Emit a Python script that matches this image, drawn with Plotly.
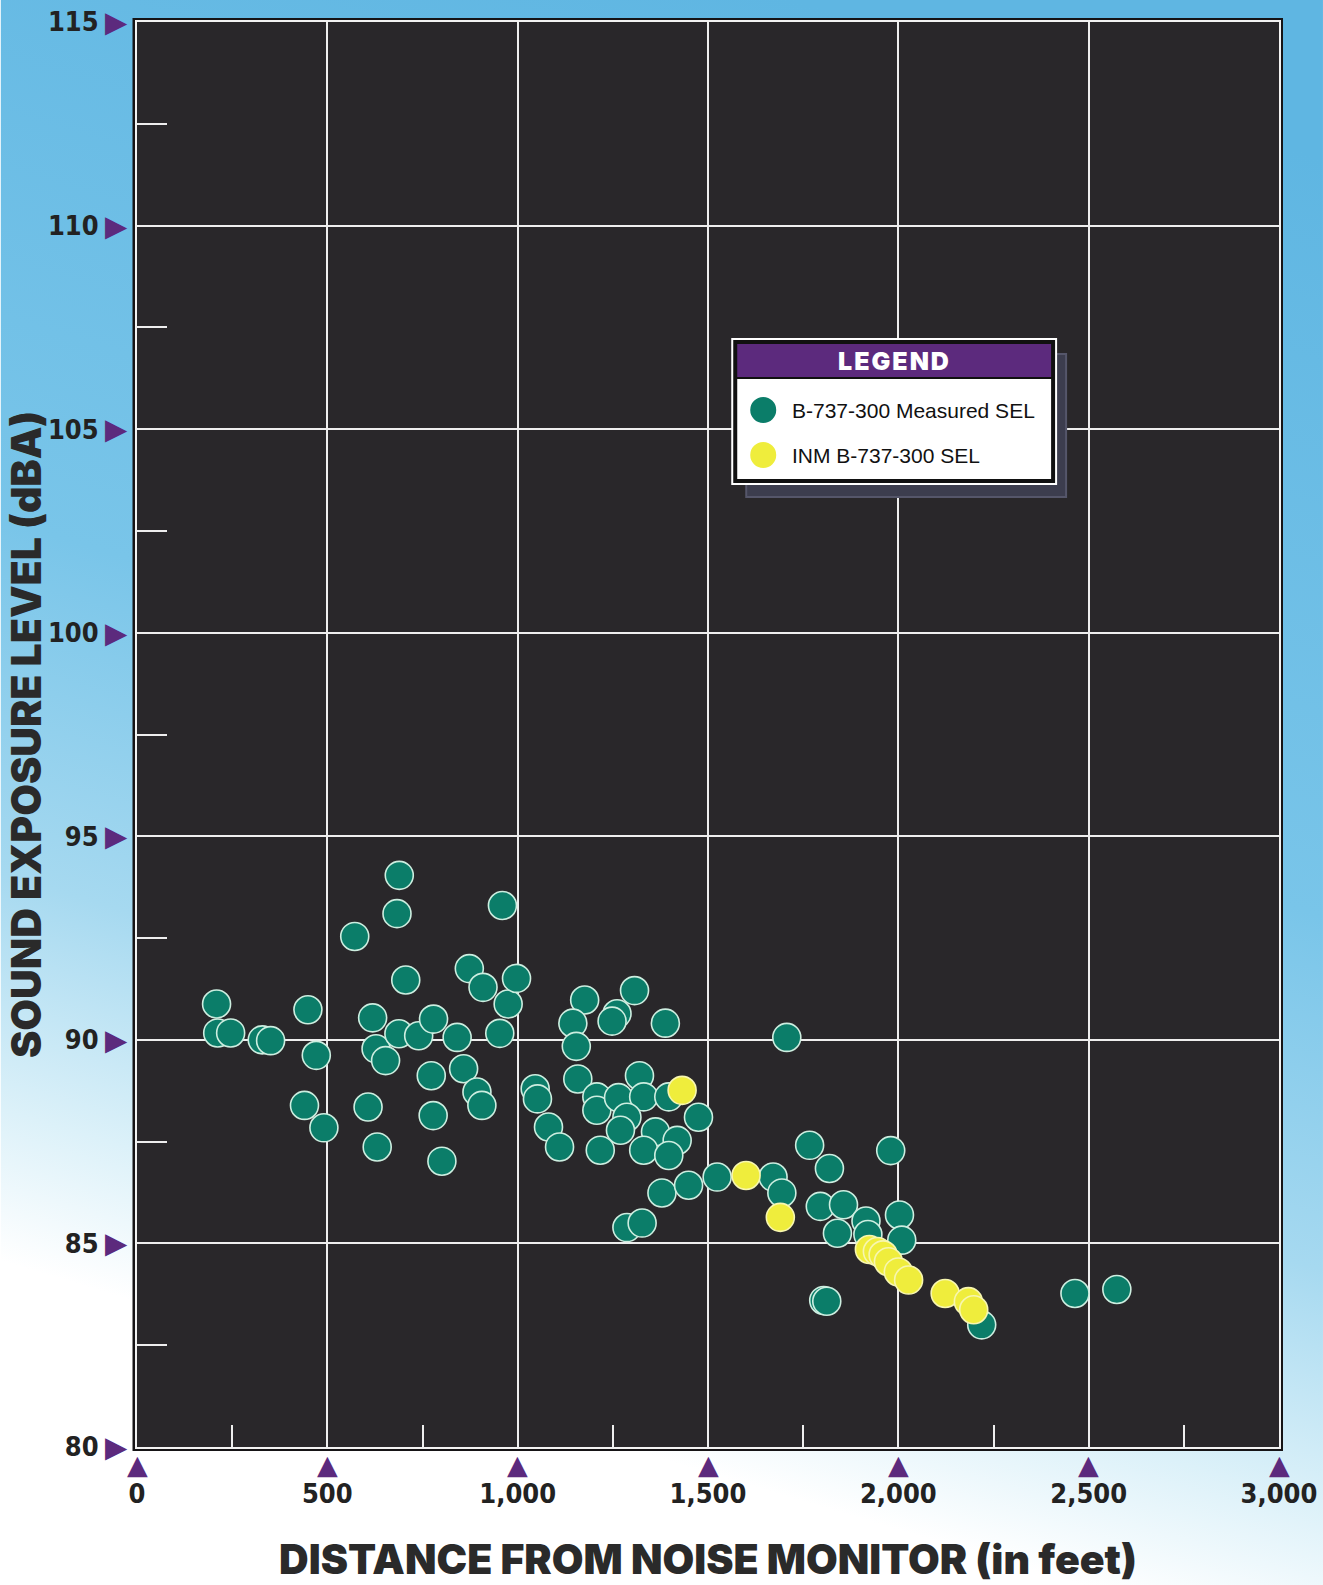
import base64
import plotly.graph_objects as go

# ---------------- data ----------------
measured_ft = [209, 212, 246, 329, 351, 449, 471, 440, 491, 572,
               689, 683, 706, 619, 628, 653, 688, 740, 779, 841,
               773, 607, 631, 778, 801, 873, 909, 960, 975, 997,
               953, 858, 893, 906, 1046, 1052, 1081, 1110, 1176, 1145,
               1154, 1158, 1307, 1261, 1248, 1388, 1707, 1320, 1208, 1208,
               1265, 1331, 1287, 1270, 1362, 1419, 1331, 1397, 1217, 1397,
               1475, 1379, 1449, 1524, 1671, 1694, 1287, 1327, 1767, 1819,
               1980, 1795, 1856, 1840, 1915, 1920, 2003, 2009, 1804, 1812,
               2219, 2464, 2574]
measured_sel = [90.88, 90.17, 90.17, 90.00, 89.98, 90.74, 89.62, 88.39, 87.84, 92.54,
                94.04, 93.10, 91.47, 90.54, 89.78, 89.49, 90.15, 90.10, 90.51, 90.06,
                89.12, 88.35, 87.37, 88.14, 87.02, 91.75, 91.29, 93.30, 90.88, 91.51,
                90.16, 89.29, 88.72, 88.39, 88.80, 88.55, 87.86, 87.37, 90.98, 90.41,
                89.84, 89.04, 91.21, 90.64, 90.46, 90.41, 90.06, 89.12, 88.60, 88.27,
                88.58, 88.60, 88.10, 87.78, 87.74, 87.53, 87.29, 87.16, 87.29, 88.60,
                88.10, 86.24, 86.43, 86.63, 86.63, 86.24, 85.39, 85.50, 87.41, 86.84,
                87.28, 85.91, 85.95, 85.25, 85.55, 85.22, 85.70, 85.08, 83.60, 83.58,
                83.00, 83.77, 83.87]

inm_ft = [1432, 1600, 1690, 1924, 1945, 1960, 1974, 2000, 2027, 2123, 2184, 2198]
inm_sel = [88.76, 86.67, 85.64, 84.85, 84.80, 84.72, 84.55, 84.30, 84.10, 83.77, 83.57, 83.37]

x_ticks = [0, 500, 1000, 1500, 2000, 2500, 3000]
y_ticks = [80, 85, 90, 95, 100, 105, 110, 115]
y_minor = [82.5, 87.5, 92.5, 97.5, 102.5, 107.5, 112.5]
x_minor = [250, 750, 1250, 1750, 2250, 2750]

series_names = ["B-737-300 Measured SEL", "INM B-737-300 SEL"]
x_title = "DISTANCE FROM NOISE MONITOR (in feet)"
y_title = "SOUND EXPOSURE LEVEL (dBA)"

# ---------------- style ----------------
W, H = 1323, 1585
L, R, T, B = 136.5, 44, 22, 138
PW, PH = W - L - R, H - T - B

GREEN = "#0b7d69"
YELLOW = "#efed3c"
PURPLE = "#5c2a7d"
DARK = "#29272a"
TXT = "#222222"

def px_x(px):
    return (px - L) / PW

def px_y(py):
    return (H - B - py) / PH

svg = (
    f'<svg xmlns="http://www.w3.org/2000/svg" width="{W}" height="{H}" '
    f'viewBox="0 0 {W} {H}" preserveAspectRatio="none">'
    '<defs><linearGradient id="g" x1="0.6" y1="0" x2="0.35" y2="1">'
    '<stop offset="0" stop-color="#5fb6e2"/>'
    '<stop offset="0.45" stop-color="#79c5e9"/>'
    '<stop offset="0.66" stop-color="#a6d9f0"/>'
    '<stop offset="0.80" stop-color="#dcf1f9"/>'
    '<stop offset="0.89" stop-color="#ffffff"/>'
    '<stop offset="1" stop-color="#ffffff"/>'
    '</linearGradient></defs>'
    f'<rect x="0" y="0" width="{W}" height="{H}" fill="url(#g)"/></svg>'
)
bg_src = "data:image/svg+xml;base64," + base64.b64encode(svg.encode()).decode()

fig = go.Figure()
fig.add_trace(go.Scatter(
    x=measured_ft, y=measured_sel, mode="markers", name=series_names[0],
    marker=dict(size=28, color=GREEN, line=dict(color="#cdeee0", width=1.6)),
    showlegend=False,
))
fig.add_trace(go.Scatter(
    x=inm_ft, y=inm_sel, mode="markers", name=series_names[1],
    marker=dict(size=28, color=YELLOW, line=dict(color="#f7f6b0", width=1.6)),
    showlegend=False,
))

tick_font = dict(family="Liberation Sans Narrow, DejaVu Sans Condensed, Arial Narrow, sans-serif",
                 size=27, color=TXT, weight="bold")
title_font = dict(family="Inter, Lato, Roboto, Arial Black, sans-serif", size=41,
                  color="#2a2a2a", weight=900)

fig.update_xaxes(
    range=[0, 3000], tickmode="array", tickvals=x_ticks,
    ticktext=[f"{v:,}" for v in x_ticks],
    showgrid=True, gridcolor="#eeeeee", gridwidth=2, zeroline=False,
    showline=True, linecolor="#f2f2f2", linewidth=2, mirror=True,
    ticks="", tickfont=tick_font, ticklabelstandoff=22, ticklabeloverflow="allow",
    minor=dict(tickmode="array", tickvals=x_minor, ticks="inside", ticklen=22,
               tickwidth=2, tickcolor="#eeeeee", showgrid=False),
    title=dict(text=x_title, font=title_font, standoff=37),
)
fig.update_yaxes(
    range=[80, 115], tickmode="array", tickvals=y_ticks,
    ticktext=[str(v) for v in y_ticks],
    showgrid=True, gridcolor="#eeeeee", gridwidth=2, zeroline=False,
    showline=True, linecolor="#f2f2f2", linewidth=2, mirror=True,
    ticks="", tickfont=tick_font, ticklabelstandoff=31, ticklabeloverflow="allow",
    minor=dict(tickmode="array", tickvals=y_minor, ticks="inside", ticklen=30,
               tickwidth=2, tickcolor="#eeeeee", showgrid=False),
)

shapes = [
    # plot panel frame + dark panel
    dict(type="rect", xref="paper", yref="paper", layer="below",
         x0=px_x(132), x1=px_x(1283), y0=px_y(1451), y1=px_y(18),
         fillcolor="#161416", line=dict(width=0)),
    dict(type="rect", xref="paper", yref="paper", layer="below",
         x0=0, x1=1, y0=0, y1=1, fillcolor=DARK, line=dict(width=0)),
    # legend: shadow
    dict(type="rect", xref="paper", yref="paper", layer="above",
         x0=px_x(746), x1=px_x(1066), y0=px_y(497), y1=px_y(354),
         fillcolor="#3c3d4e", line=dict(color="#55566a", width=2)),
    # legend: outline / frame
    dict(type="rect", xref="paper", yref="paper", layer="above",
         x0=px_x(732), x1=px_x(1056), y0=px_y(484), y1=px_y(339),
         fillcolor="#111111", line=dict(color="#ffffff", width=2)),
    dict(type="rect", xref="paper", yref="paper", layer="above",
         x0=px_x(737), x1=px_x(1051), y0=px_y(377), y1=px_y(344),
         fillcolor=PURPLE, line=dict(width=0)),
    dict(type="rect", xref="paper", yref="paper", layer="above",
         x0=px_x(737), x1=px_x(1051), y0=px_y(479), y1=px_y(379),
         fillcolor="#ffffff", line=dict(width=0)),
]
legend_rows = [(410, GREEN), (455, YELLOW)]
for (py, col) in legend_rows:
    shapes.append(dict(type="circle", xref="paper", yref="paper", layer="above",
                       xsizemode="pixel", ysizemode="pixel",
                       xanchor=px_x(763), yanchor=px_y(py),
                       x0=-13, x1=13, y0=-13, y1=13,
                       fillcolor=col, line=dict(width=0)))

annotations = [
    dict(xref="paper", yref="paper", x=px_x(894), y=px_y(361),
         text="<span style='letter-spacing:2px'>LEGEND</span>",
         showarrow=False, xanchor="center", yanchor="middle",
         font=dict(family="Inter, Lato, Arial Black, sans-serif", size=25,
                   color="#ffffff", weight=900)),
    # y-axis title
    dict(xref="paper", yref="paper", x=px_x(25), y=0.5, text=y_title,
         textangle=-90, showarrow=False, xanchor="center", yanchor="middle",
         font=title_font),
]
for (py, _), name in zip(legend_rows, series_names):
    annotations.append(dict(xref="paper", yref="paper", x=px_x(790), y=px_y(py),
                            text=name, showarrow=False, xanchor="left", yanchor="middle",
                            font=dict(family="Liberation Sans, Arial, sans-serif",
                                      size=21, color="#111111")))
# purple pointer triangles next to the tick labels
for v in x_ticks:
    annotations.append(dict(x=v, xref="x", y=0, yref="paper", yshift=-17,
                            text="▲", showarrow=False, xanchor="center", yanchor="middle",
                            font=dict(family="DejaVu Sans", size=27, color=PURPLE)))
for v in y_ticks:
    annotations.append(dict(x=0, xref="paper", y=v, yref="y", xshift=-21,
                            text="▶", showarrow=False, xanchor="center", yanchor="middle",
                            font=dict(family="DejaVu Sans", size=29, color=PURPLE)))

fig.update_layout(
    width=W, height=H,
    margin=dict(l=L, r=R, t=T, b=B, autoexpand=False),
    paper_bgcolor="#ffffff", plot_bgcolor="rgba(0,0,0,0)",
    showlegend=False,
    shapes=shapes, annotations=annotations,
    images=[dict(source=bg_src, xref="paper", yref="paper",
                 x=px_x(0), y=px_y(0), sizex=W / PW, sizey=H / PH,
                 xanchor="left", yanchor="top", sizing="stretch", layer="below")],
)

fig.write_html("out.html", config={"displayModeBar": False},
               post_script="document.body.style.margin='0';document.body.style.overflow='hidden';")
